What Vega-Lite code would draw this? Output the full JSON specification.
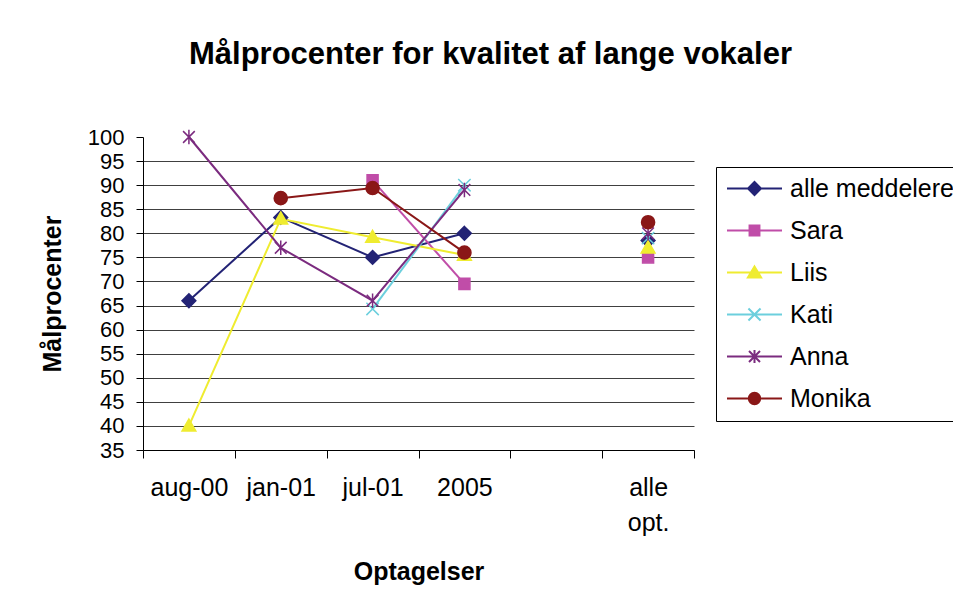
{
  "$schema": "https://vega.github.io/schema/vega-lite/v6.json",
  "width": 551,
  "height": 313,
  "autosize": {"type": "none"},
  "padding": {"left": 143, "top": 137, "right": 259, "bottom": 154},
  "background": "white",
  "config": {"font": "Liberation Sans", "view": {"stroke": null}},
  "title": {"text": "Målprocenter for kvalitet af lange vokaler", "fontSize": 31, "fontWeight": "bold", "color": "#000", "anchor": "middle", "frame": "group", "dx": 72, "baseline": "alphabetic", "offset": 31},
  "data": {"values": [
    {"series": "alle meddelere", "x": "aug-00", "value": 66},
    {"series": "alle meddelere", "x": "jan-01", "value": 83.3},
    {"series": "alle meddelere", "x": "jul-01", "value": 75},
    {"series": "alle meddelere", "x": "2005", "value": 80},
    {"series": "alle meddelere", "x": "alle opt.", "value": 78.5},
    {"series": "Sara", "x": "jul-01", "value": 91},
    {"series": "Sara", "x": "2005", "value": 69.5},
    {"series": "Sara", "x": "alle opt.", "value": 75},
    {"series": "Liis", "x": "aug-00", "value": 40},
    {"series": "Liis", "x": "jan-01", "value": 83},
    {"series": "Liis", "x": "jul-01", "value": 79.2},
    {"series": "Liis", "x": "2005", "value": 75.5},
    {"series": "Liis", "x": "alle opt.", "value": 77},
    {"series": "Kati", "x": "jul-01", "value": 64.3},
    {"series": "Kati", "x": "2005", "value": 90},
    {"series": "Kati", "x": "alle opt.", "value": 79},
    {"series": "Anna", "x": "aug-00", "value": 100},
    {"series": "Anna", "x": "jan-01", "value": 77},
    {"series": "Anna", "x": "jul-01", "value": 66},
    {"series": "Anna", "x": "2005", "value": 89},
    {"series": "Anna", "x": "alle opt.", "value": 80},
    {"series": "Monika", "x": "jan-01", "value": 87.3},
    {"series": "Monika", "x": "jul-01", "value": 89.4},
    {"series": "Monika", "x": "2005", "value": 76},
    {"series": "Monika", "x": "alle opt.", "value": 82.3}
  ]},
  "encoding": {
    "x": {
      "field": "x", "type": "nominal",
      "scale": {"domain": ["aug-00", "jan-01", "jul-01", "2005", " ", "alle opt."], "paddingInner": 0, "paddingOuter": 0},
      "axis": {
        "title": "Optagelser", "titleFontSize": 25, "titleFontWeight": "bold", "titleColor": "#000", "titlePadding": 24,
        "labelAngle": 0, "labelFontSize": 25, "labelColor": "#000", "labelPadding": 17, "labelLineHeight": 35,
        "labelExpr": "datum.value == 'alle opt.' ? ['alle', 'opt.'] : datum.value",
        "bandPosition": 0, "tickBand": "extent", "tickSize": 8, "tickColor": "#000", "tickWidth": 1,
        "domainColor": "#000", "domainWidth": 1, "grid": false
      }
    },
    "y": {
      "field": "value", "type": "quantitative",
      "scale": {"domain": [35, 100], "nice": false, "zero": false},
      "axis": {
        "title": "Målprocenter", "titleFontSize": 25, "titleFontWeight": "bold", "titleColor": "#000", "titlePadding": 22,
        "values": [35, 40, 45, 50, 55, 60, 65, 70, 75, 80, 85, 90, 95, 100],
        "labelFontSize": 22, "labelColor": "#000", "labelPadding": 12,
        "tickSize": 7, "tickColor": "#000", "domainColor": "#000", "domainWidth": 1,
        "grid": true, "gridColor": "#404040", "gridWidth": 1,
        "gridOpacity": {"condition": {"test": "datum.value === 100", "value": 0}, "value": 1}
      }
    }
  },
  "layer": [
    {
      "transform": [{"filter": "datum.x !== 'alle opt.'"}],
      "mark": {"type": "line", "strokeWidth": 2},
      "encoding": {
        "color": {"field": "series", "type": "nominal", "legend": null,
          "scale": {"domain": ["alle meddelere", "Sara", "Liis", "Kati", "Anna", "Monika"], "range": ["#232375", "#C04DA8", "#EFEC30", "#6CCFDD", "#7B2B7F", "#8A1717"]}}
      }
    },
    {
      "mark": {"type": "point", "filled": true, "opacity": 1, "size": 190, "strokeWidth": 1.5},
      "encoding": {
        "color": {"field": "series", "type": "nominal", "legend": null,
          "scale": {"domain": ["alle meddelere", "Sara", "Liis", "Kati", "Anna", "Monika"], "range": ["#232375", "#C04DA8", "#EFEC30", "#6CCFDD", "#7B2B7F", "#8A1717"]}},
        "stroke": {"field": "series", "type": "nominal", "legend": null,
          "scale": {"domain": ["alle meddelere", "Sara", "Liis", "Kati", "Anna", "Monika"], "range": ["#232375", "#C04DA8", "#EFEC30", "#6CCFDD", "#7B2B7F", "#8A1717"]}},
        "shape": {"field": "series", "type": "nominal", "legend": null,
          "scale": {"domain": ["alle meddelere", "Sara", "Liis", "Kati", "Anna", "Monika"], "range": [
            "M0,-1L1,0L0,1L-1,0Z",
            "M-0.8,-0.8L0.8,-0.8L0.8,0.8L-0.8,0.8Z",
            "M0,-1L1,0.75L-1,0.75Z",
            "M-0.9,-0.9L0.9,0.9M-0.9,0.9L0.9,-0.9",
            "M-0.85,-0.85L0.85,0.85M-0.85,0.85L0.85,-0.85M0,-1.05L0,1.05",
            "M0.95,0A0.95,0.95,0,1,1,-0.95,0A0.95,0.95,0,1,1,0.95,0Z"
          ]}}
      }
    },
    {
      "transform": [{"filter": "false"}],
      "mark": {"type": "point", "filled": true, "opacity": 1, "size": 169, "strokeWidth": 2},
      "encoding": {
        "color": {"field": "series", "type": "nominal",
          "scale": {"domain": ["alle meddelere", "Sara", "Liis", "Kati", "Anna", "Monika"], "range": ["#232375", "#C04DA8", "#EFEC30", "#6CCFDD", "#7B2B7F", "#8A1717"]},
          "legend": {"orient": "none", "legendX": 573, "legendY": 30, "title": null, "strokeColor": "#000", "padding": 9, "symbolSize": 484, "symbolOffset": 17, "labelOffset": 23, "labelFontSize": 25, "labelColor": "#000", "labelLimit": 400, "rowPadding": 16, "symbolStrokeWidth": 2}},
        "stroke": {"field": "series", "type": "nominal",
          "scale": {"domain": ["alle meddelere", "Sara", "Liis", "Kati", "Anna", "Monika"], "range": ["#232375", "#C04DA8", "#EFEC30", "#6CCFDD", "#7B2B7F", "#8A1717"]},
          "legend": {"orient": "none", "legendX": 573, "legendY": 30, "title": null, "strokeColor": "#000", "padding": 9, "symbolSize": 484, "symbolOffset": 17, "labelOffset": 23, "labelFontSize": 25, "labelColor": "#000", "labelLimit": 400, "rowPadding": 16, "symbolStrokeWidth": 2}},
        "shape": {"field": "series", "type": "nominal",
          "scale": {"domain": ["alle meddelere", "Sara", "Liis", "Kati", "Anna", "Monika"], "range": [
            "M-2.5,0L2.5,0M0,-0.59L0.59,0L0,0.59L-0.59,0Z",
            "M-2.5,0L2.5,0M-0.45,-0.45L0.45,-0.45L0.45,0.45L-0.45,0.45Z",
            "M-2.5,0L2.5,0M0,-0.55L0.6,0.45L-0.6,0.45Z",
            "M-2.5,0L2.5,0M-0.55,-0.55L0.55,0.55M-0.55,0.55L0.55,-0.55",
            "M-2.5,0L2.5,0M-0.5,-0.5L0.5,0.5M-0.5,0.5L0.5,-0.5M0,-0.6L0,0.6",
            "M-2.5,0L2.5,0M0.52,0A0.52,0.52,0,1,1,-0.52,0A0.52,0.52,0,1,1,0.52,0Z"
          ]},
          "legend": {"orient": "none", "legendX": 573, "legendY": 30, "title": null, "strokeColor": "#000", "padding": 9, "symbolSize": 484, "symbolOffset": 17, "labelOffset": 23, "labelFontSize": 25, "labelColor": "#000", "labelLimit": 400, "rowPadding": 16, "symbolStrokeWidth": 2}}
      }
    }
  ],
  "resolve": {
    "scale": {"color": "independent", "stroke": "independent", "shape": "independent"},
    "legend": {"color": "independent", "stroke": "independent", "shape": "independent"}
  }
}
